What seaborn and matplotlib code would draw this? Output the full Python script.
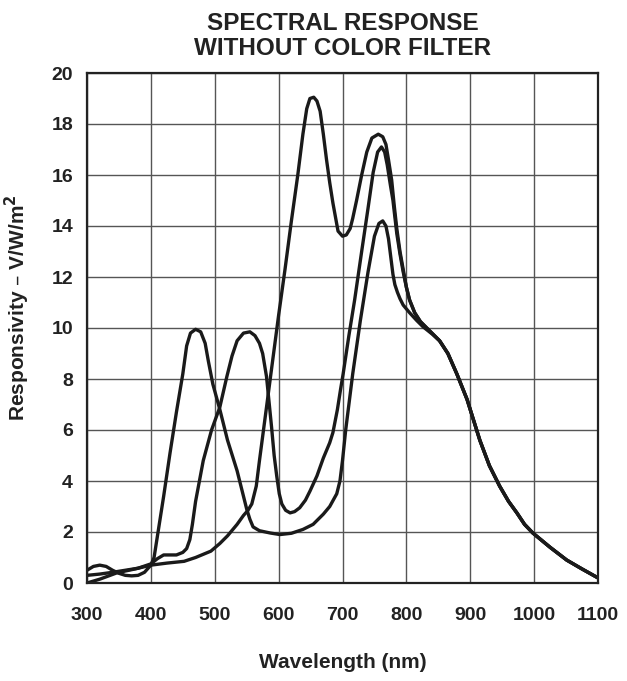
import numpy as np
import pandas as pd
import matplotlib
matplotlib.use("Agg")
import matplotlib.pyplot as plt
import seaborn as sns

# ---- data ----
blue_nm = [300, 310, 320, 330, 340, 350, 360, 370, 380, 390, 400, 405, 410, 420, 430, 440, 450, 456,
           462, 470, 478, 485, 490, 497, 508, 520, 535, 545, 550, 555, 560, 570, 587, 602, 620, 638,
           654, 670, 680, 691, 696, 700, 705, 716, 728, 740, 750, 757, 763, 768, 772, 776, 779, 782,
           786, 790, 795, 805, 816, 826, 841]
blue_val = [0.5, 0.65, 0.7, 0.65, 0.5, 0.38, 0.3, 0.28, 0.3, 0.42, 0.7, 1.0, 1.8, 3.4, 5.1, 6.7, 8.2, 9.3,
            9.8, 9.95, 9.85, 9.4, 8.7, 7.8, 6.8, 5.6, 4.4, 3.4, 2.9, 2.5, 2.2, 2.05, 1.96, 1.9, 1.95, 2.1,
            2.3, 2.7, 3.0, 3.5, 4.0, 4.8, 6.0, 8.2, 10.3, 12.2, 13.6, 14.1, 14.2, 14.0, 13.5, 12.7, 12.1, 11.7,
            11.4, 11.15, 10.9, 10.6, 10.3, 10.05, 9.75]

green_nm = [300, 320, 340, 360, 380, 400, 410, 420, 430, 440, 450, 456, 461, 465, 470, 482, 495, 508,
            519, 527, 535, 545, 555, 563, 570, 575, 581, 585, 589, 593, 597, 601, 605, 611, 618, 625,
            633, 642, 649, 660, 670, 680, 685, 692, 697, 701, 710, 719, 730, 740, 748, 755, 761, 766,
            770, 775, 779, 785, 790, 795, 800, 805, 813, 822, 832, 842]
green_val = [0.3, 0.35, 0.42, 0.5, 0.58, 0.75, 0.95, 1.1, 1.1, 1.1, 1.2, 1.35, 1.7, 2.3, 3.2, 4.8, 6.0, 6.9,
             8.1, 8.9, 9.5, 9.8, 9.85, 9.7, 9.4, 9.0, 8.1, 7.1, 6.1, 5.0, 4.2, 3.5, 3.1, 2.85, 2.75, 2.8,
             2.95, 3.25, 3.6, 4.2, 4.9, 5.5, 5.9, 6.8, 7.6, 8.2, 9.7, 11.1, 13.0, 14.7, 16.1, 16.9, 17.1, 16.9,
             16.4, 15.6, 15.0, 13.7, 12.9, 12.2, 11.6, 11.1, 10.6, 10.25, 10.0, 9.75]

red_nm = [300, 320, 347, 375, 400, 425, 452, 470, 494, 508, 520, 535, 545, 552, 558, 565, 570, 580,
          590, 600, 610, 620, 630, 638, 644, 649, 655, 660, 665, 670, 675, 680, 685, 693, 700, 706,
          712, 716, 722, 730, 738, 746, 756, 763, 768, 772, 777, 781, 785, 790, 795, 800, 805, 813,
          822, 832, 842]
red_val = [0.0, 0.15, 0.4, 0.55, 0.7, 0.78, 0.85, 1.0, 1.25, 1.55, 1.85, 2.3, 2.65, 2.85, 3.1, 3.8, 4.8, 6.7,
           8.6, 10.5, 12.3, 14.2, 16.0, 17.6, 18.6, 19.0, 19.05, 18.9, 18.5, 17.6, 16.6, 15.7, 14.9, 13.8, 13.6, 13.65,
           13.9, 14.3, 15.0, 16.0, 16.9, 17.45, 17.6, 17.5, 17.2, 16.6, 15.8, 14.8, 13.9, 13.0, 12.3, 11.6, 11.1, 10.6,
           10.25, 10.0, 9.75]

tail_nm = [852, 865, 879, 887, 895, 905, 915, 930, 946, 960, 973, 985, 998, 1025, 1051, 1075, 1100]
tail_val = [9.5, 9.0, 8.2, 7.7, 7.2, 6.4, 5.6, 4.6, 3.8, 3.2, 2.75, 2.3, 1.96, 1.4, 0.9, 0.55, 0.2]

x_ticks = [300, 400, 500, 600, 700, 800, 900, 1000, 1100]
y_ticks = [0, 2, 4, 6, 8, 10, 12, 14, 16, 18, 20]

frames = []
for name, xs, ys in [("blue", blue_nm, blue_val), ("green", green_nm, green_val), ("red", red_nm, red_val)]:
    frames.append(pd.DataFrame({"nm": list(xs) + tail_nm, "val": list(ys) + tail_val, "ch": name}))
df = pd.concat(frames, ignore_index=True)

sns.set_theme(style="white")
plt.rcParams["font.family"] = ["Liberation Sans", "DejaVu Sans"]
plt.rcParams["font.weight"] = "bold"

TXT = "#222222"
fig = plt.figure(figsize=(6.27, 6.81), dpi=100)
ax = fig.add_axes([87/627, 1 - 583/681, (598-87)/627, (583-73)/681])

sns.lineplot(data=df, x="nm", y="val", hue="ch", units="ch", estimator=None,
             palette={"blue": "#1a1a1a", "green": "#1a1a1a", "red": "#1a1a1a"},
             linewidth=2.4, legend=False, ax=ax, solid_capstyle="round", solid_joinstyle="round")

ax.set_xlim(300, 1100)
ax.set_ylim(0, 20)
ax.set_xticks(x_ticks)
ax.set_yticks(y_ticks)
ax.set_xticklabels([str(t) for t in x_ticks], fontsize=14, fontweight="bold", color=TXT)
ax.set_yticklabels([str(t) for t in y_ticks], fontsize=14, fontweight="bold", color=TXT)
ax.tick_params(axis="both", length=0)
ax.tick_params(axis="x", pad=17)
ax.tick_params(axis="y", pad=10)
ax.grid(True, color="#555555", linewidth=1.0)
ax.set_axisbelow(True)
for s in ax.spines.values():
    s.set_visible(True)
    s.set_color(TXT)
    s.set_linewidth(1.6)

ax.set_xlabel("Wavelength (nm)", fontsize=15, fontweight="bold", color=TXT, labelpad=21)
ax.set_ylabel("Responsivity \u2013 V/W/m$^\\mathbf{2}$", fontsize=15, fontweight="bold", color=TXT)
ax.yaxis.set_label_coords(-0.108, 0.54)
ax.set_title("SPECTRAL RESPONSE\nWITHOUT COLOR FILTER", fontsize=17.5, fontweight="bold",
             color=TXT, pad=13, linespacing=1.12)

fig.savefig("out.png", dpi=100)
